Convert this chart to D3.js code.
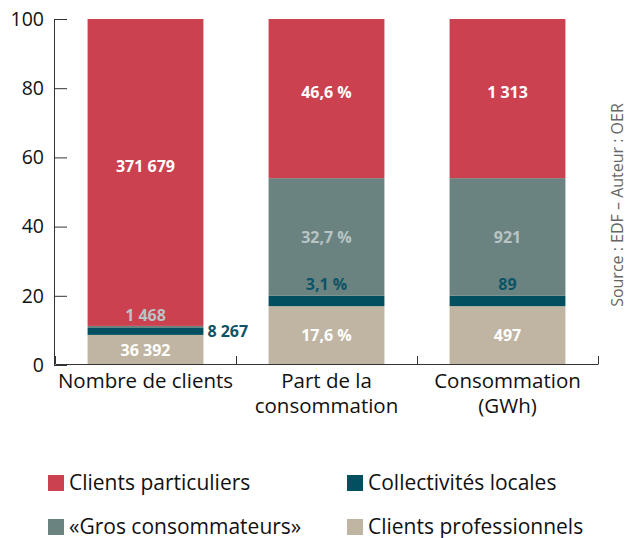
<!DOCTYPE html>
<html>
<head>
<meta charset="utf-8">
<script src="https://cdn.jsdelivr.net/npm/d3@7"></script>
<style>
  body { margin: 0; background: #fff; }
  svg { font-family: "Open Sans", sans-serif; }
</style>
</head>
<body>
<div id="chart"></div>
<script>
// Data (bar heights in % of each column)
const categories = ['Nombre de clients', 'Part de la\nconsommation', 'Consommation\n(GWh)'];
const seriesNames = ['Clients professionnels', 'Collectivités locales', '«Gros consommateurs»', 'Clients particuliers'];
const professionnels = [8.7, 17, 17];
const collectivites = [2.0, 3, 3];
const grosConso = [0.6, 34, 34];
const particuliers = [88.7, 46, 46];
const labelsProfessionnels = ['36 392', '17,6 %', '497'];
const labelsCollectivites = ['8 267', '3,1 %', '89'];
const labelsGros = ['1 468', '32,7 %', '921'];
const labelsParticuliers = ['371 679', '46,6 %', '1 313'];
const yTicks = [0, 20, 40, 60, 80, 100];
const legendOrder = ['Clients particuliers', 'Collectivités locales', '«Gros consommateurs»', 'Clients professionnels'];

const seriesValues = [professionnels, collectivites, grosConso, particuliers];
const seriesLabels = [labelsProfessionnels, labelsCollectivites, labelsGros, labelsParticuliers];
const colors = ['#c0b5a2', '#02505f', '#6a8381', '#cc414f'];
const labelColors = ['#ffffff', '#0b5366', '#b9c4c4', '#ffffff'];

const W = 627, H = 538;
const svg = d3.select('#chart').append('svg')
    .attr('width', W)
    .attr('height', H);

// table for the stack
const table = categories.map(function (c, i) {
  const row = { cat: c };
  seriesNames.forEach(function (s, j) { row[s] = seriesValues[j][i]; });
  return row;
});
const stacked = d3.stack().keys(seriesNames)(table);

// Scales
const x = d3.scaleBand()
    .domain(categories)
    .range([55, 598])
    .paddingInner(0.36)
    .paddingOuter(0.18);
const y = d3.scaleLinear()
    .domain([0, 100])
    .range([365, 19]);
const xEdges = d3.scaleLinear()
    .domain([0, categories.length])
    .range([55, 598]);

// Bars
const layers = svg.append('g').selectAll('g')
    .data(stacked)
    .join('g')
    .attr('fill', function (d, i) { return colors[i]; });

layers.selectAll('rect')
    .data(function (d) { return d; })
    .join('rect')
    .attr('x', function (d) { return x(d.data.cat); })
    .attr('width', x.bandwidth())
    .attr('y', function (d) { return y(d[1]); })
    .attr('height', function (d) { return y(d[0]) - y(d[1]); });

// Bar labels
stacked.forEach(function (layer, si) {
  layer.forEach(function (d, ci) {
    const top = y(d[1]), bottom = y(d[0]);
    const h = bottom - top;
    let lx = x(d.data.cat) + x.bandwidth() / 2;
    let ly = (top + bottom) / 2;
    let anchor = 'middle';
    if (h < 20) {
      // thin segment: label above it, or beside the bar when the next one is thin too
      const next = stacked[si + 1];
      const nextH = next ? y(next[ci][0]) - y(next[ci][1]) : 100;
      if (nextH < 20) {
        lx = x(d.data.cat) + x.bandwidth() + 4;
        anchor = 'start';
      } else {
        ly = top - 11;
      }
    } else if (si === 3) {
      ly -= 6;
    }
    svg.append('text')
        .attr('x', lx)
        .attr('y', ly)
        .attr('dy', '0.35em')
        .attr('text-anchor', anchor)
        .attr('font-size', '16px')
        .attr('font-weight', 'bold')
        .attr('fill', labelColors[si])
        .text(seriesLabels[si][ci]);
  });
});

// Y axis
const yAxis = svg.append('g')
    .attr('transform', 'translate(54,0)')
    .call(d3.axisLeft(y).tickValues(yTicks).tickSizeInner(-13).tickSizeOuter(0).tickPadding(10));
yAxis.selectAll('line, path').attr('stroke', '#333');
yAxis.selectAll('text').attr('font-size', '19.5px').attr('fill', '#111').attr('font-family', '"Open Sans", sans-serif');

// X axis (ticks at the edges of the columns)
const xAxis = svg.append('g')
    .attr('transform', 'translate(0,364)')
    .call(d3.axisBottom(xEdges).tickValues(d3.range(categories.length + 1)).tickSizeInner(-8).tickSizeOuter(0).tickFormat(''));
xAxis.selectAll('line, path').attr('stroke', '#333');

// Category labels
categories.forEach(function (c) {
  const lines = c.split('\n');
  const t = svg.append('text')
      .attr('x', x(c) + x.bandwidth() / 2)
      .attr('y', 388)
      .attr('text-anchor', 'middle')
      .attr('font-size', '20.5px')
      .attr('fill', '#111');
  lines.forEach(function (l, i) {
    t.append('tspan')
        .attr('x', x(c) + x.bandwidth() / 2)
        .attr('dy', i === 0 ? 0 : 24.5)
        .text(l);
  });
});

// Source
svg.append('text')
    .attr('transform', 'translate(623,205) rotate(-90)')
    .attr('text-anchor', 'middle')
    .attr('font-size', '16px')
    .attr('fill', '#666')
    .text('Source : EDF – Auteur : OER');

// Legend
const legend = svg.append('g').selectAll('g')
    .data(legendOrder)
    .join('g')
    .attr('transform', function (d, i) {
      return 'translate(' + (i % 2 === 0 ? 48 : 347) + ',' + (475 + Math.floor(i / 2) * 44) + ')';
    });
legend.append('rect')
    .attr('width', 16)
    .attr('height', 16)
    .attr('fill', function (d) { return colors[seriesNames.indexOf(d)]; });
legend.append('text')
    .attr('x', 21)
    .attr('y', 15)
    .attr('font-size', '21px')
    .attr('fill', '#111')
    .text(function (d) { return d; });
</script>
</body>
</html>
